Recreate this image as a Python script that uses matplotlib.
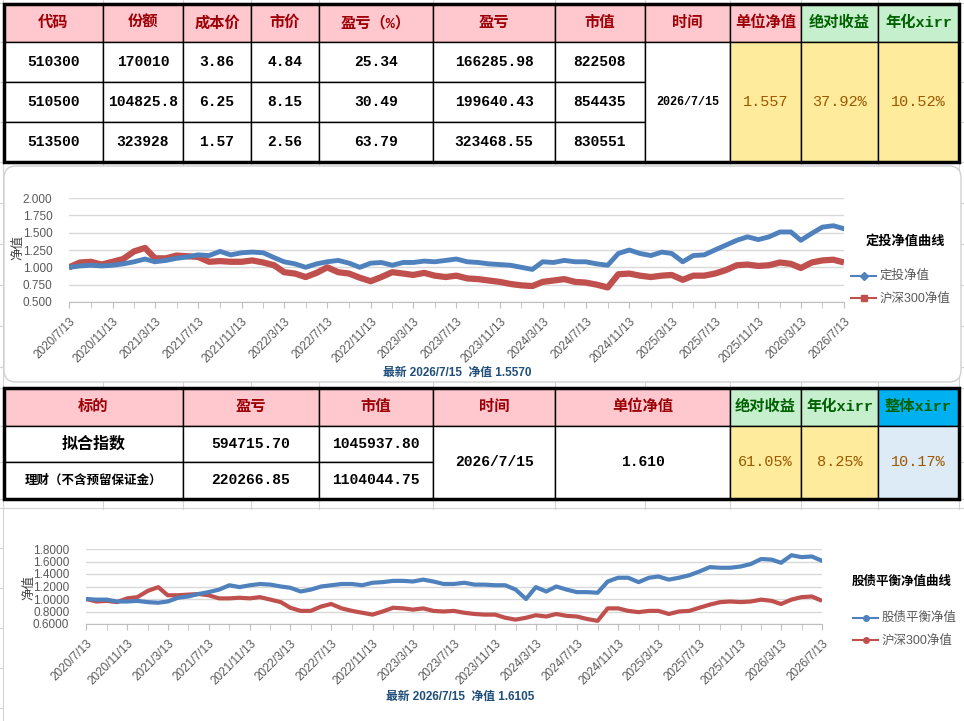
import pandas as pd
import matplotlib.pyplot as plt
from matplotlib.patches import Rectangle, FancyBboxPatch

# ---- table 1 ----
t1_header = ["代码", "份额", "成本价", "市价", "盈亏（%）", "盈亏", "市值", "时间", "单位净值", "绝对收益", "年化xirr"]
codes = ["510300", "510500", "513500"]
shares = ["170010", "104825.8", "323928"]
cost = ["3.86", "6.25", "1.57"]
price = ["4.84", "8.15", "2.56"]
pnl_pct = ["25.34", "30.49", "63.79"]
pnl = ["166285.98", "199640.43", "323468.55"]
mkt_val = ["822508", "854435", "830551"]
t1_date = "2026/7/15"
t1_nav = "1.557"
t1_abs = "37.92%"
t1_xirr = "10.52%"

# ---- table 2 ----
t2_header = ["标的", "盈亏", "市值", "时间", "单位净值", "绝对收益", "年化xirr", "整体xirr"]
t2_names = ["拟合指数", "理财（不含预留保证金）"]
t2_pnl = ["594715.70", "220266.85"]
t2_mkt = ["1045937.80", "1104044.75"]
t2_date = "2026/7/15"
t2_nav = "1.610"
t2_abs = "61.05%"
t2_xirr = "8.25%"
t2_total = "10.17%"

# ---- monthly NAV, 2020/7/13 .. 2026/7/13 ----
dingtou = [1.00, 1.02, 1.03, 1.02, 1.03, 1.05,
           1.08, 1.12, 1.08, 1.10, 1.13, 1.15, 1.18, 1.17, 1.23, 1.18, 1.21, 1.22,
           1.21, 1.14, 1.08, 1.05, 1.00, 1.05, 1.08, 1.10, 1.06, 1.00, 1.06, 1.07,
           1.03, 1.07, 1.07, 1.09, 1.08, 1.10, 1.12, 1.08, 1.07, 1.05, 1.04, 1.03,
           1.00, 0.97, 1.08, 1.07, 1.10, 1.08, 1.08, 1.05, 1.03, 1.20, 1.25, 1.20,
           1.17, 1.22, 1.20, 1.08, 1.17, 1.18, 1.25, 1.32, 1.39, 1.44, 1.40, 1.44,
           1.51, 1.51, 1.39, 1.49, 1.58, 1.60, 1.557]
hs300_1 = [1.00, 1.07, 1.08, 1.04, 1.08, 1.12,
           1.23, 1.28, 1.13, 1.13, 1.17, 1.16, 1.15, 1.08, 1.09, 1.08, 1.08, 1.10,
           1.07, 1.03, 0.93, 0.91, 0.86, 0.92, 1.00, 0.93, 0.91, 0.85, 0.80, 0.86,
           0.93, 0.91, 0.89, 0.92, 0.88, 0.86, 0.88, 0.84, 0.83, 0.81, 0.79, 0.76,
           0.74, 0.73, 0.79, 0.81, 0.83, 0.79, 0.78, 0.75, 0.71, 0.90, 0.91, 0.88,
           0.86, 0.88, 0.89, 0.82, 0.88, 0.88, 0.91, 0.96, 1.03, 1.04, 1.02, 1.03,
           1.07, 1.05, 0.99, 1.07, 1.10, 1.11, 1.07]
balance = [1.00, 0.99, 0.99, 0.96, 0.96, 0.97,
           0.95, 0.94, 0.96, 1.02, 1.04, 1.08, 1.11, 1.15, 1.22, 1.19, 1.22, 1.24,
           1.23, 1.20, 1.18, 1.12, 1.15, 1.20, 1.22, 1.24, 1.24, 1.22, 1.26, 1.27,
           1.29, 1.29, 1.28, 1.31, 1.28, 1.24, 1.24, 1.26, 1.23, 1.23, 1.22, 1.22,
           1.15, 1.00, 1.19, 1.12, 1.20, 1.15, 1.11, 1.11, 1.10, 1.28, 1.34, 1.34,
           1.27, 1.34, 1.36, 1.31, 1.34, 1.38, 1.44, 1.51, 1.50, 1.50, 1.52, 1.56,
           1.64, 1.63, 1.58, 1.70, 1.67, 1.68, 1.6105]
hs300_2 = [1.00, 0.96, 0.97, 0.95, 1.01, 1.03,
           1.13, 1.19, 1.06, 1.06, 1.07, 1.08, 1.06, 1.01, 1.01, 1.02, 1.01, 1.03,
           0.99, 0.95, 0.86, 0.81, 0.81, 0.88, 0.92, 0.85, 0.81, 0.78, 0.75, 0.80,
           0.86, 0.85, 0.83, 0.85, 0.81, 0.80, 0.81, 0.78, 0.76, 0.75, 0.75, 0.70,
           0.67, 0.70, 0.74, 0.72, 0.76, 0.73, 0.72, 0.68, 0.65, 0.85, 0.85, 0.81,
           0.79, 0.81, 0.81, 0.76, 0.80, 0.81, 0.86, 0.91, 0.95, 0.96, 0.95, 0.96,
           0.99, 0.97, 0.92, 0.99, 1.03, 1.04, 0.97]

dates = pd.date_range("2020-07-13", periods=len(dingtou), freq=pd.DateOffset(months=1))
major = dates[::4]
minor = dates[::2]

W, H = 964, 721
PINK, RED_T = "#FFC7CE", "#9C0006"
GREEN, GREEN_T = "#C6EFCE", "#006100"
YELLOW, GOLD_T = "#FFEB9C", "#9C5700"
BLUE_H, BLUE_L = "#00B0F0", "#DDEBF7"
C_BLUE, C_RED = "#4F81BD", "#C0504D"
MONO = ["Liberation Mono", "Noto Sans CJK SC"]
SANS = ["Liberation Sans", "Noto Sans CJK SC"]

fig = plt.figure(figsize=(W / 100, H / 100), dpi=100)
bg = fig.add_axes([0, 0, 1, 1])
bg.set_xlim(0, W)
bg.set_ylim(H, 0)
bg.axis("off")

# spreadsheet grid behind everything
for x in [3, 103, 183, 251, 319, 433, 555, 645, 730, 801, 878, 959]:
    bg.axvline(x, color="#D4D4D4", lw=0.8, zorder=0)
for y in [3, 42, 82, 122, 162, 203, 244, 285, 326, 367, 388, 426, 462, 499, 508, 548, 588, 628, 668, 708]:
    bg.axhline(y, color="#D4D4D4", lw=0.8, zorder=0)


def cell(x0, y0, x1, y1, fc, text="", color="black", size=10.5, weight="bold", family=MONO):
    bg.add_patch(Rectangle((x0, y0), x1 - x0, y1 - y0, fc=fc, ec="black", lw=1, zorder=2))
    if text:
        bg.text((x0 + x1) / 2, (y0 + y1) / 2, text, ha="center", va="center", color=color,
                fontsize=size, fontweight=weight, family=family, zorder=3)


# ---- table 1 ----
cx1 = [4, 103, 183, 251, 319, 433, 555, 645, 730, 801, 878, 959]
ry1 = [4, 42, 82, 122, 162]
for i, h in enumerate(t1_header):
    fc, tc = (GREEN, GREEN_T) if i >= 9 else (PINK, RED_T)
    cell(cx1[i], ry1[0], cx1[i + 1], ry1[1], fc, h, tc, size=11)
cols1 = [codes, shares, cost, price, pnl_pct, pnl, mkt_val]
for c, col in enumerate(cols1):
    for r, v in enumerate(col):
        cell(cx1[c], ry1[r + 1], cx1[c + 1], ry1[r + 2], "white", v)
cell(cx1[7], ry1[1], cx1[8], ry1[4], "white", t1_date, size=8.5)
for c, v in zip([8, 9, 10], [t1_nav, t1_abs, t1_xirr]):
    cell(cx1[c], ry1[1], cx1[c + 1], ry1[4], YELLOW, v, GOLD_T, size=11, weight="normal")
bg.add_patch(Rectangle((cx1[0], ry1[0]), cx1[-1] - cx1[0], ry1[-1] - ry1[0], fc="none", ec="black", lw=2.5, zorder=4))

# ---- table 2 ----
cx2 = [4, 183, 319, 433, 555, 730, 801, 878, 959]
ry2 = [388, 426, 462, 499]
for i, h in enumerate(t2_header):
    if i == 7:
        fc, tc = BLUE_H, GREEN_T
    elif i >= 5:
        fc, tc = GREEN, GREEN_T
    else:
        fc, tc = PINK, RED_T
    cell(cx2[i], ry2[0], cx2[i + 1], ry2[1], fc, h, tc, size=11)
cell(cx2[0], ry2[1], cx2[1], ry2[2], "white", t2_names[0], size=11.5)
cell(cx2[0], ry2[2], cx2[1], ry2[3], "white", t2_names[1], size=9)
for c, col in zip([1, 2], [t2_pnl, t2_mkt]):
    for r, v in enumerate(col):
        cell(cx2[c], ry2[r + 1], cx2[c + 1], ry2[r + 2], "white", v)
cell(cx2[3], ry2[1], cx2[4], ry2[3], "white", t2_date)
cell(cx2[4], ry2[1], cx2[5], ry2[3], "white", t2_nav)
cell(cx2[5], ry2[1], cx2[6], ry2[3], YELLOW, t2_abs, GOLD_T, size=11, weight="normal")
cell(cx2[6], ry2[1], cx2[7], ry2[3], YELLOW, t2_xirr, GOLD_T, size=11, weight="normal")
cell(cx2[7], ry2[1], cx2[8], ry2[3], BLUE_L, t2_total, GOLD_T, size=11, weight="normal")
bg.add_patch(Rectangle((cx2[0], ry2[0]), cx2[-1] - cx2[0], ry2[-1] - ry2[0], fc="none", ec="black", lw=2.5, zorder=4))

# chart backgrounds
bg.add_patch(FancyBboxPatch((4, 166), 957, 216, boxstyle="round,pad=0,rounding_size=12",
                            fc="white", ec="#D0D0D0", lw=1, zorder=1))
bg.add_patch(Rectangle((4, 510), 960, 211, fc="white", ec="none", zorder=1))


def nav_chart(box, s1, s2, ylim, yticks, yfmt, lw1, lw2):
    x0, y0, x1, y1 = box
    ax = fig.add_axes([x0 / W, 1 - y1 / H, (x1 - x0) / W, (y1 - y0) / H])
    ax.set_facecolor("none")
    ax.plot(dates, s2, color=C_RED, lw=lw2, solid_capstyle="butt", zorder=2)
    ax.plot(dates, s1, color=C_BLUE, lw=lw1, zorder=3)
    ax.set_xlim(dates[0], dates[-1])
    ax.set_ylim(*ylim)
    ax.set_yticks(yticks)
    ax.set_yticklabels([yfmt.format(v) for v in yticks], color="#595959", fontsize=8.5, family=SANS)
    ax.set_xticks(major)
    ax.set_xticks(minor, minor=True)
    ax.set_xticklabels([f"{d.year}/{d.month}/{d.day}" for d in major], rotation=45, ha="right",
                       rotation_mode="anchor", color="#595959", fontsize=8.5, family=SANS)
    ax.grid(axis="y", color="#D9D9D9", lw=1)
    ax.set_axisbelow(True)
    for s in ["top", "right", "left"]:
        ax.spines[s].set_visible(False)
    ax.spines["bottom"].set_color("#BFBFBF")
    ax.tick_params(axis="y", length=0, pad=12)
    ax.tick_params(axis="x", which="both", direction="out", length=4, color="#BFBFBF", pad=6)
    return ax


nav_chart((69, 198, 844, 302), dingtou, hs300_1, (0.5, 2.0), [0.5, 0.75, 1.0, 1.25, 1.5, 1.75, 2.0],
          "{:.3f}", 3.5, 4.5)
nav_chart((86, 549, 822, 624), balance, hs300_2, (0.6, 1.8), [0.6, 0.8, 1.0, 1.2, 1.4, 1.6, 1.8],
          "{:.4f}", 3, 3)

# chart texts and legends
ov = fig.add_axes([0, 0, 1, 1], zorder=10)
ov.set_xlim(0, W)
ov.set_ylim(H, 0)
ov.axis("off")
ov.text(18, 247, "净值", rotation=90, ha="center", va="center", fontsize=9, color="#404040", family=SANS)
ov.text(29, 588, "净值", rotation=90, ha="center", va="center", fontsize=9, color="#404040", family=SANS)
ov.text(905, 241, "定投净值曲线", ha="center", va="center", fontsize=9.5, fontweight="bold", family=SANS)
ov.text(902, 582, "股债平衡净值曲线", ha="center", va="center", fontsize=9, fontweight="bold", family=SANS)
legend_items = [(276, 851, C_BLUE, "D", "定投净值"), (298, 851, C_RED, "s", "沪深300净值"),
                (618, 853, C_BLUE, "o", "股债平衡净值"), (640, 853, C_RED, "o", "沪深300净值")]
for y, x, col, mk, lab in legend_items:
    ov.plot([x, x + 25], [y, y], color=col, lw=1.5)
    ov.plot([x + 12.5], [y], color=col, marker=mk, ms=4)
    ov.text(x + 29, y, lab, ha="left", va="center", fontsize=9, color="#595959", family=SANS)
ov.text(457, 373, "最新 2026/7/15  净值 1.5570", ha="center", va="center", fontsize=8.5,
        fontweight="bold", color="#1F4E79", family=SANS)
ov.text(460, 697, "最新 2026/7/15  净值 1.6105", ha="center", va="center", fontsize=8.5,
        fontweight="bold", color="#1F4E79", family=SANS)

fig.savefig("out.png", dpi=100)
